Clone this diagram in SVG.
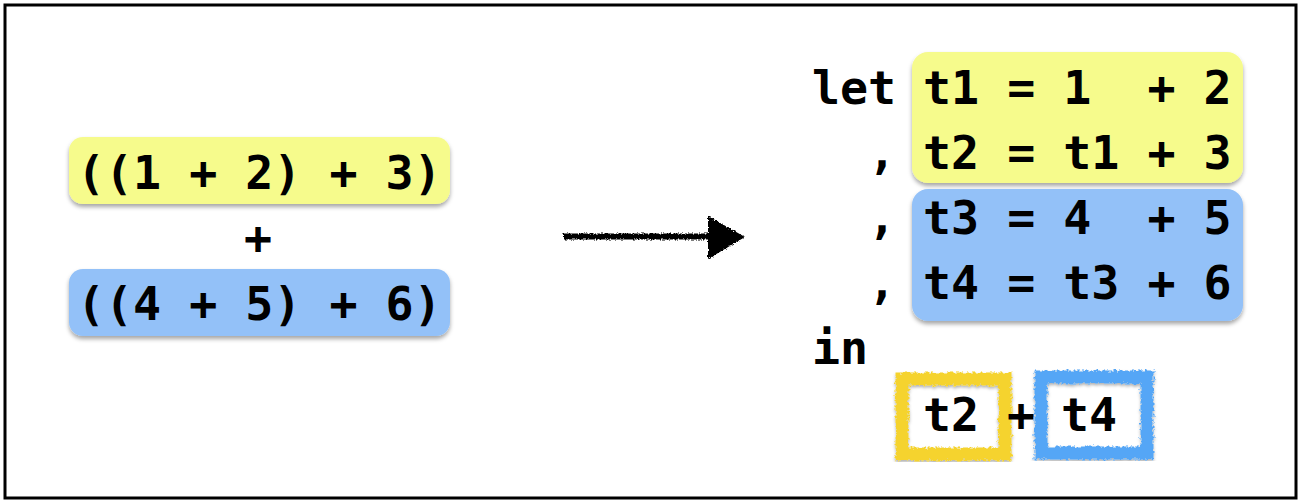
<svg xmlns="http://www.w3.org/2000/svg" width="1302" height="504" viewBox="0 0 1302 504">
<defs>
  <filter id="shadow" x="-10%" y="-20%" width="120%" height="150%">
    <feDropShadow dx="0" dy="3" stdDeviation="2" flood-color="#000" flood-opacity="0.35"/>
  </filter>
  <filter id="rough" x="-10%" y="-10%" width="120%" height="120%">
    <feTurbulence type="fractalNoise" baseFrequency="0.35" numOctaves="2" seed="3" result="n"/>
    <feDisplacementMap in="SourceGraphic" in2="n" scale="6" xChannelSelector="R" yChannelSelector="G" result="d"/>
    <feDropShadow dx="0" dy="2" stdDeviation="1.5" flood-color="#000" flood-opacity="0.3"/>
  </filter>
  <filter id="roughArrow" x="-5%" y="-30%" width="110%" height="160%">
    <feTurbulence type="fractalNoise" baseFrequency="0.6" numOctaves="2" seed="7" result="n"/>
    <feDisplacementMap in="SourceGraphic" in2="n" scale="4" xChannelSelector="R" yChannelSelector="G"/>
  </filter>
  <style>
    .code { font-family: "DejaVu Sans Mono", "Liberation Mono", monospace; font-weight: bold; font-size: 46.6px; fill: #000; }
    .yel { fill: #F6FB8C; }
    .blu { fill: #93C1F8; }
    .box { filter: url(#shadow); }
    .sk { fill: none; stroke-width: 13; filter: url(#rough); }
  </style>
</defs>
<rect x="5" y="5" width="1291" height="493" fill="#fff" stroke="#000" stroke-width="3"/>

<g id="left-expr-1">
  <rect class="yel box" x="69" y="137" width="381" height="67" rx="14"/>
  <text class="code" x="77" y="189" xml:space="preserve">((1 + 2) + 3)</text>
</g>
<g id="left-plus">
  <text class="code" x="258" y="254" text-anchor="middle">+</text>
</g>
<g id="left-expr-2">
  <rect class="blu box" x="69" y="269" width="381" height="67" rx="14"/>
  <text class="code" x="77" y="320" xml:space="preserve">((4 + 5) + 6)</text>
</g>

<g id="connectors">
  <g filter="url(#roughArrow)">
    <line x1="563" y1="236.5" x2="712" y2="236.5" stroke="#000" stroke-width="6"/>
    <polygon points="708,216 745,237 708,259" fill="#000"/>
  </g>
</g>

<g id="let-keywords">
  <text class="code" x="812" y="104">let</text>
  <text class="code" x="868" y="169">,</text>
  <text class="code" x="868" y="234">,</text>
  <text class="code" x="868" y="299">,</text>
  <text class="code" x="812" y="364">in</text>
</g>
<g id="bind-yellow">
  <rect class="yel box" x="912" y="52" width="331" height="131" rx="16"/>
  <text class="code" x="923" y="104" xml:space="preserve">t1 = 1  + 2</text>
  <text class="code" x="923" y="169" xml:space="preserve">t2 = t1 + 3</text>
</g>
<g id="bind-blue">
  <rect class="blu box" x="912" y="189" width="331" height="132" rx="16"/>
  <text class="code" x="923" y="234" xml:space="preserve">t3 = 4  + 5</text>
  <text class="code" x="923" y="299" xml:space="preserve">t4 = t3 + 6</text>
</g>
<g id="result-t2">
  <rect class="sk" x="902" y="379" width="103" height="75" stroke="#F5D32E"/>
  <text class="code" x="923" y="431">t2</text>
</g>
<g id="result-plus">
  <text class="code" x="1007" y="431">+</text>
</g>
<g id="result-t4">
  <rect class="sk" x="1041" y="377" width="106" height="76" stroke="#55A6F6"/>
  <text class="code" x="1061" y="431">t4</text>
</g>
</svg>
